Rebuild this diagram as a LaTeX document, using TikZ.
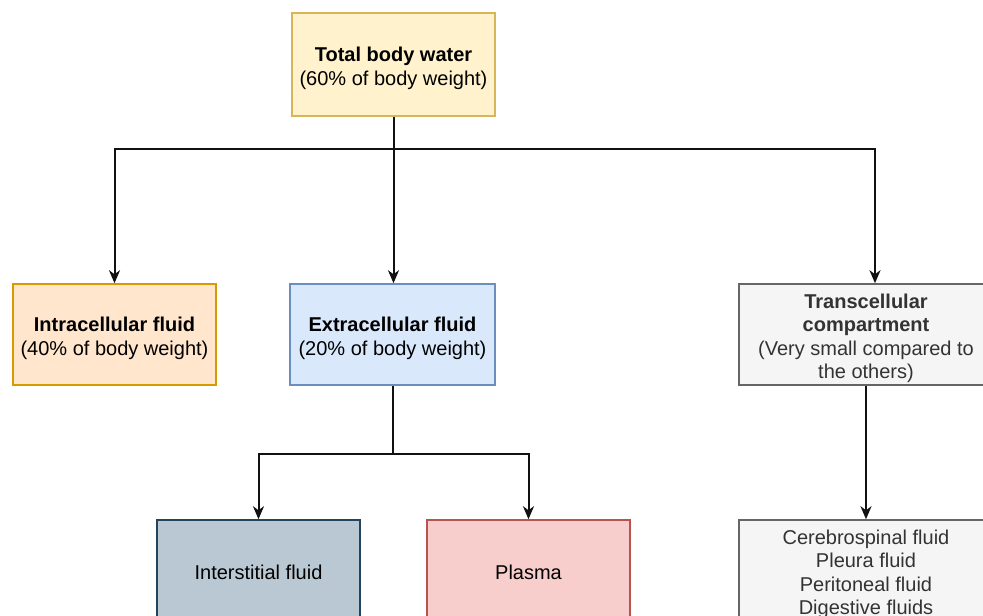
\documentclass[tikz,border=0pt]{standalone}
\usepackage{fontspec}
\setmainfont{Liberation Sans}
\usetikzlibrary{arrows.meta}
\definecolor{yfill}{HTML}{FFF2CC}\definecolor{ydraw}{HTML}{D6B656}
\definecolor{ofill}{HTML}{FFE6CC}\definecolor{odraw}{HTML}{D79B00}
\definecolor{bfill}{HTML}{DAE8FC}\definecolor{bdraw}{HTML}{6C8EBF}
\definecolor{gfill}{HTML}{F5F5F5}\definecolor{gdraw}{HTML}{666666}\definecolor{gtext}{HTML}{333333}
\definecolor{sfill}{HTML}{BAC8D3}\definecolor{sdraw}{HTML}{23445D}
\definecolor{rfill}{HTML}{F8CECC}\definecolor{rdraw}{HTML}{B85450}
\definecolor{linec}{HTML}{111111}
% struts that fix the vertical placement of the text lines in each box
\newcommand\fs{\rule{0pt}{22pt}}
\newcommand\ls{\rule[-4.5pt]{0pt}{4.5pt}}
\tikzset{
  box/.style={rectangle, line width=1.5pt, inner sep=0pt, align=center,
    minimum width=203pt, minimum height=101pt,
    font=\fontsize{20pt}{23.5pt}\selectfont},
  arr/.style={draw=linec, line width=2pt,
    -{Stealth[length=13pt,width=11pt,inset=4pt]}},
  plain/.style={draw=linec, line width=2pt},
}
\begin{document}
\begin{tikzpicture}[x=1pt,y=-1pt]
\useasboundingbox (0,0) rectangle (983,616);
\clip (0,0) rectangle (983,616);
\fill[white] (0,0) rectangle (983,616);

\node[box, fill=yfill, draw=ydraw, minimum height=103pt] (total) at (393.5,64.5)
  {\fs\textbf{Total body water}\\(60\% of body weight)\ls};
\node[box, fill=ofill, draw=odraw] (intra) at (114.5,334.5)
  {\fs\textbf{Intracellular fluid}\\(40\% of body weight)\ls};
\node[box, fill=bfill, draw=bdraw, minimum width=205pt] (extra) at (392.5,334.5)
  {\fs\textbf{Extracellular fluid}\\(20\% of body weight)\ls};
\node[box, fill=gfill, draw=gdraw, text=gtext, minimum width=254pt] (trans) at (866,334.5)
  {\fs\textbf{Transcellular}\\\textbf{compartment}\\(Very small compared to\\the others)\ls};
\node[box, fill=sfill, draw=sdraw] (inter) at (258.5,570.5) {\fs Interstitial fluid\ls};
\node[box, fill=rfill, draw=rdraw] (plasma) at (528.5,570.5) {\fs Plasma\ls};
\node[box, fill=gfill, draw=gdraw, text=gtext, minimum width=254pt] (other) at (866,570.5)
  {\fs Cerebrospinal fluid\\Pleura fluid\\Peritoneal fluid\\Digestive fluids\ls};

% branch from total body water
\coordinate (split) at (393.5,149);
\draw[plain] (total.south) -- (split);
\draw[arr] (split) -| (intra.north);
\draw[arr] (split) -- (extra.north -| split);
\draw[arr] (split) -| ([xshift=9pt]trans.north);

% branch from extracellular fluid
\coordinate (esplit) at ([yshift=-68pt]extra.south);
\draw[plain] (extra.south) -- (esplit);
\draw[arr] (esplit) -| (inter.north);
\draw[arr] (esplit) -| (plasma.north);

% transcellular examples
\draw[arr] (trans.south) -- (other.north);
\end{tikzpicture}
\end{document}
